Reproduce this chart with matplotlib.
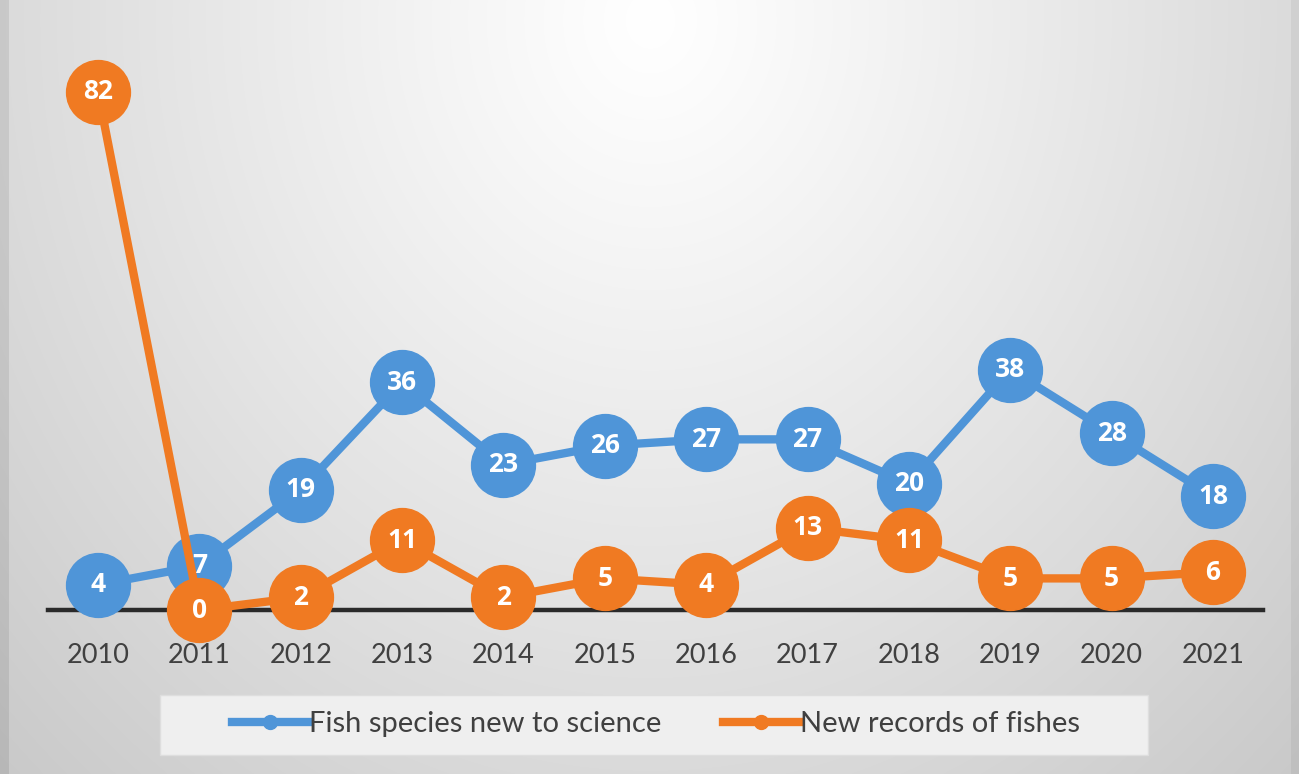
import numpy as np
import matplotlib
matplotlib.use("Agg")
import matplotlib.pyplot as plt
from matplotlib.lines import Line2D
from matplotlib.patches import Rectangle

years = ["2010", "2011", "2012", "2013", "2014", "2015", "2016", "2017", "2018", "2019", "2020", "2021"]
new_species = [4, 7, 19, 36, 23, 26, 27, 27, 20, 38, 28, 18]
new_records = [82, 0, 2, 11, 2, 5, 4, 13, 11, 5, 5, 6]
series_names = ["Fish species new to science", "New records of fishes"]

BLUE = "#4f95d8"
ORANGE = "#f07a22"

W, H = 1299, 774
fig = plt.figure(figsize=(W / 100, H / 100), dpi=100)

# background radial gradient
bg = fig.add_axes([0, 0, 1, 1], zorder=0)
yy, xx = np.mgrid[0:H, 0:W]
dx = (xx - 650) / 720.0
dy = (yy - 20) / 820.0
r = np.sqrt(dx ** 2 + dy ** 2)
val = 1.0 - 0.16 * np.clip(r, 0, 1.3) ** 1.1
val[:, :9] -= 0.07
val[:, W - 8:] -= 0.04
val = np.clip(val, 0, 1)
bg.imshow(np.dstack([val, val, val]), extent=[0, W, H, 0], aspect="auto", interpolation="bilinear")
bg.set_xlim(0, W)
bg.set_ylim(H, 0)
bg.axis("off")

# main axes: x from px 48 to 1263, y from px 20 to 610
px_per_unit = 6.32
left, right = 48, 1263
top, bottom = 20, 610
ax = fig.add_axes([left / W, 1 - bottom / H, (right - left) / W, (bottom - top) / H], zorder=1)
ax.set_facecolor("none")
x = np.arange(len(years))
step = (1213 - 98) / 11.0
ax.set_xlim(-50 / step, 11 + 50 / step)
ax.set_ylim(0, (bottom - top) / px_per_unit)

for s in ["top", "right", "left"]:
    ax.spines[s].set_visible(False)
ax.spines["bottom"].set_linewidth(3.2)
ax.spines["bottom"].set_color("#2a2a2a")
ax.set_yticks([])
ax.set_xticks(x)
ax.set_xticklabels(years, fontsize=19.5, color="#404040", family="Lato")
ax.tick_params(axis="x", length=0, pad=24)

ms = 46
lw = 6
ax.plot(x, new_species, color=BLUE, lw=lw, marker="o", ms=ms, mfc=BLUE, mec=BLUE, zorder=3, clip_on=False)
ax.plot(x, new_records, color=ORANGE, lw=lw, marker="o", ms=ms, mfc=ORANGE, mec=ORANGE, zorder=4, clip_on=False)

for xi, v in zip(x, new_species):
    ax.text(xi, v, str(v), ha="center", va="center", color="white", fontsize=19, fontweight="bold",
            family="Open Sans", zorder=6, clip_on=False)
for xi, v in zip(x, new_records):
    ax.text(xi, v, str(v), ha="center", va="center", color="white", fontsize=19, fontweight="bold",
            family="Open Sans", zorder=6, clip_on=False)

# legend box
fig.patches.append(Rectangle((160 / W, 1 - 755 / H), (1148 - 160) / W, 60 / H,
                             transform=fig.transFigure, facecolor="#efefef", edgecolor="#dedede",
                             lw=1, zorder=1))
handles = [Line2D([], [], color=BLUE, lw=6, marker="o", ms=10, mfc=BLUE, mec=BLUE),
           Line2D([], [], color=ORANGE, lw=6, marker="o", ms=10, mfc=ORANGE, mec=ORANGE)]
leg = fig.legend(handles, series_names, loc="center", bbox_to_anchor=(656 / W, 1 - 724 / H),
                 ncol=2, frameon=False, prop={"family": "Lato", "size": 21},
                 handlelength=2.6, handletextpad=0.05, columnspacing=2.1)
for t in leg.get_texts():
    t.set_color("#404040")
leg.set_zorder(2)

fig.savefig("out.png", dpi=100)
